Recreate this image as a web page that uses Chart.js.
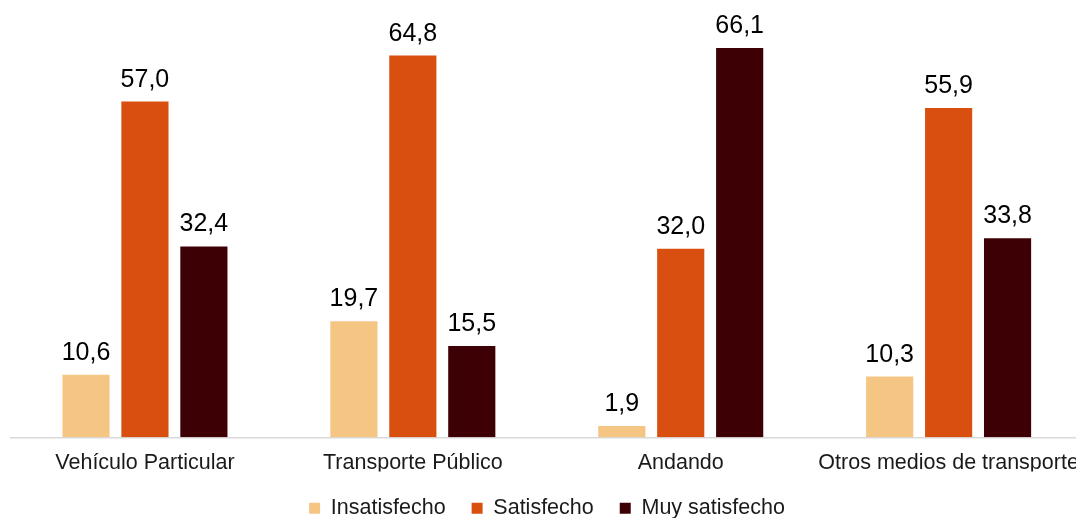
<!DOCTYPE html>
<html>
<head>
<meta charset="utf-8">
<script src="https://cdn.jsdelivr.net/npm/chart.js@4/dist/chart.umd.min.js"></script>
<style>
    html, body { margin: 0; padding: 0; overflow: hidden; background: #fff; }
    #wrap { width: 1076px; height: 518px; overflow: hidden; }
</style>
</head>
<body>
<div id="wrap"><canvas id="chart" width="1084" height="529"></canvas></div>
<script>
const categories = ['Vehículo Particular', 'Transporte Público', 'Andando', 'Otros medios de transporte'];
const insatisfecho = [10.6, 19.7, 1.9, 10.3];
const satisfecho = [57.0, 64.8, 32.0, 55.9];
const muySatisfecho = [32.4, 15.5, 66.1, 33.8];
const seriesNames = ['Insatisfecho', 'Satisfecho', 'Muy satisfecho'];

Chart.defaults.font.family = '"Liberation Sans", Arial, sans-serif';
Chart.defaults.color = '#1a1a1a';

// etiquetas de valor encima de cada barra
const valueLabels = {
    id: 'valueLabels',
    afterDatasetsDraw(chart) {
        const ctx = chart.ctx;
        ctx.save();
        ctx.font = '25px "Liberation Sans", Arial, sans-serif';
        ctx.fillStyle = '#000';
        ctx.textAlign = 'center';
        ctx.textBaseline = 'alphabetic';
        chart.data.datasets.forEach((ds, i) => {
            chart.getDatasetMeta(i).data.forEach((bar, j) => {
                ctx.fillText(ds.data[j].toFixed(1).replace('.', ','), bar.x, bar.y - 15);
            });
        });
        ctx.restore();
    }
};

new Chart(document.getElementById('chart'), {
    type: 'bar',
    data: {
        labels: categories,
        datasets: [
            {label: seriesNames[0], data: insatisfecho, backgroundColor: '#F5C584'},
            {label: seriesNames[1], data: satisfecho, backgroundColor: '#D94F0F'},
            {label: seriesNames[2], data: muySatisfecho, backgroundColor: '#3D0005'}
        ]
    },
    options: {
        responsive: false,
        animation: false,
        layout: {
            padding: {left: 11, right: 1, top: 25, bottom: 0}
        },
        datasets: {
            bar: {
                barPercentage: 0.8,
                categoryPercentage: 0.66
            }
        },
        scales: {
            x: {
                grid: {display: false},
                border: {display: true, color: '#d9d9d9', width: 1.5},
                ticks: {
                    font: {size: 21.5},
                    color: '#1a1a1a',
                    padding: 5,
                    maxRotation: 0,
                    autoSkip: false
                },
                afterFit(scale) {
                    scale.height = 34.25;
                }
            },
            y: {
                display: false,
                min: 0,
                max: 70
            }
        },
        plugins: {
            legend: {
                position: 'bottom',
                labels: {
                    boxWidth: 11,
                    boxHeight: 11,
                    padding: 26,
                    font: {size: 21.5},
                    color: '#1a1a1a'
                }
            },
            tooltip: {enabled: false}
        }
    },
    plugins: [valueLabels]
});
</script>
</body>
</html>
